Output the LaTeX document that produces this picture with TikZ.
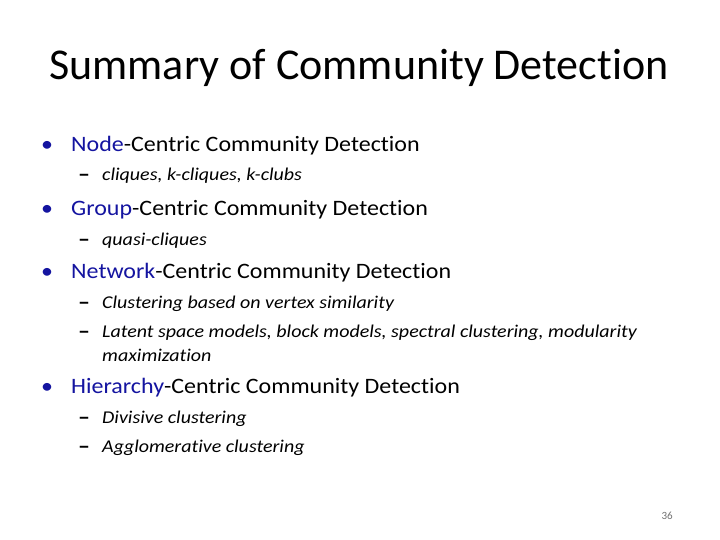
\documentclass[tikz,border=0pt]{standalone}
\usepackage{fontspec}
\setmainfont{Carlito}[Ligatures=NoCommon]
\newfontfamily\headfont{Carlito}[Ligatures=NoCommon,FakeStretch=1.09]
\newfontfamily\subfont{Carlito}[Ligatures=NoCommon,FakeStretch=1.11]
\definecolor{keyblue}{RGB}{20,20,160}
\tikzset{
  lvlone/.style={anchor=base west, inner sep=0pt, font=\headfont\fontsize{22}{26}\selectfont},
  lvltwo/.style={anchor=base west, inner sep=0pt, font=\subfont\fontsize{18}{22}\selectfont\itshape},
  dot/.style={anchor=base west, inner sep=0pt, text=keyblue, font=\headfont\fontsize{22}{26}\selectfont},
  dashmark/.style={anchor=base west, inner sep=0pt, font=\headfont\fontsize{22}{26}\selectfont\bfseries}
}

\begin{document}
\begin{tikzpicture}[x=1pt,y=-1pt]
\useasboundingbox[fill=white] (0,0) rectangle (720,540);
\node[anchor=base, inner sep=0pt, font=\fontsize{44}{50}\selectfont] (title) at (359,80) {Summary of Community Detection};

\node[dot] (b1) at (41,152) {•};
\node[lvlone] (node) at (71,152) {\textcolor{keyblue}{Node}-Centric Community Detection};
\node[dashmark] (d1) at (78,182) {–};
\node[lvltwo] (cliques) at (102,181) {cliques, k-cliques, k-clubs};

\node[dot] (b2) at (41,215) {•};
\node[lvlone] (group) at (71,215) {\textcolor{keyblue}{Group}-Centric Community Detection};
\node[dashmark] (d2) at (78,246) {–};
\node[lvltwo] (quasi) at (102,245) {quasi-cliques};

\node[dot] (b3) at (41,278) {•};
\node[lvlone] (network) at (71,278) {\textcolor{keyblue}{Network}-Centric Community Detection};
\node[dashmark] (d3) at (78,309) {–};
\node[lvltwo] (vertex) at (102,308) {Clustering based on vertex similarity};
\node[dashmark] (d4) at (78,338) {–};
\node[lvltwo] (latent) at (102,337) {Latent space models, block models, spectral clustering, modularity};
\node[lvltwo] (maxim) at (102,361) {maximization};

\node[dot] (b4) at (41,393) {•};
\node[lvlone] (hier) at (71,393) {\textcolor{keyblue}{Hierarchy}-Centric Community Detection};
\node[dashmark] (d5) at (78,424) {–};
\node[lvltwo] (divisive) at (102,423) {Divisive clustering};
\node[dashmark] (d6) at (78,453) {–};
\node[lvltwo] (agglo) at (102,452) {Agglomerative clustering};

\node[anchor=base east, inner sep=0pt, font=\fontsize{11}{13}\selectfont, text=black!55] (page) at (673,519) {36};
\end{tikzpicture}
\end{document}
